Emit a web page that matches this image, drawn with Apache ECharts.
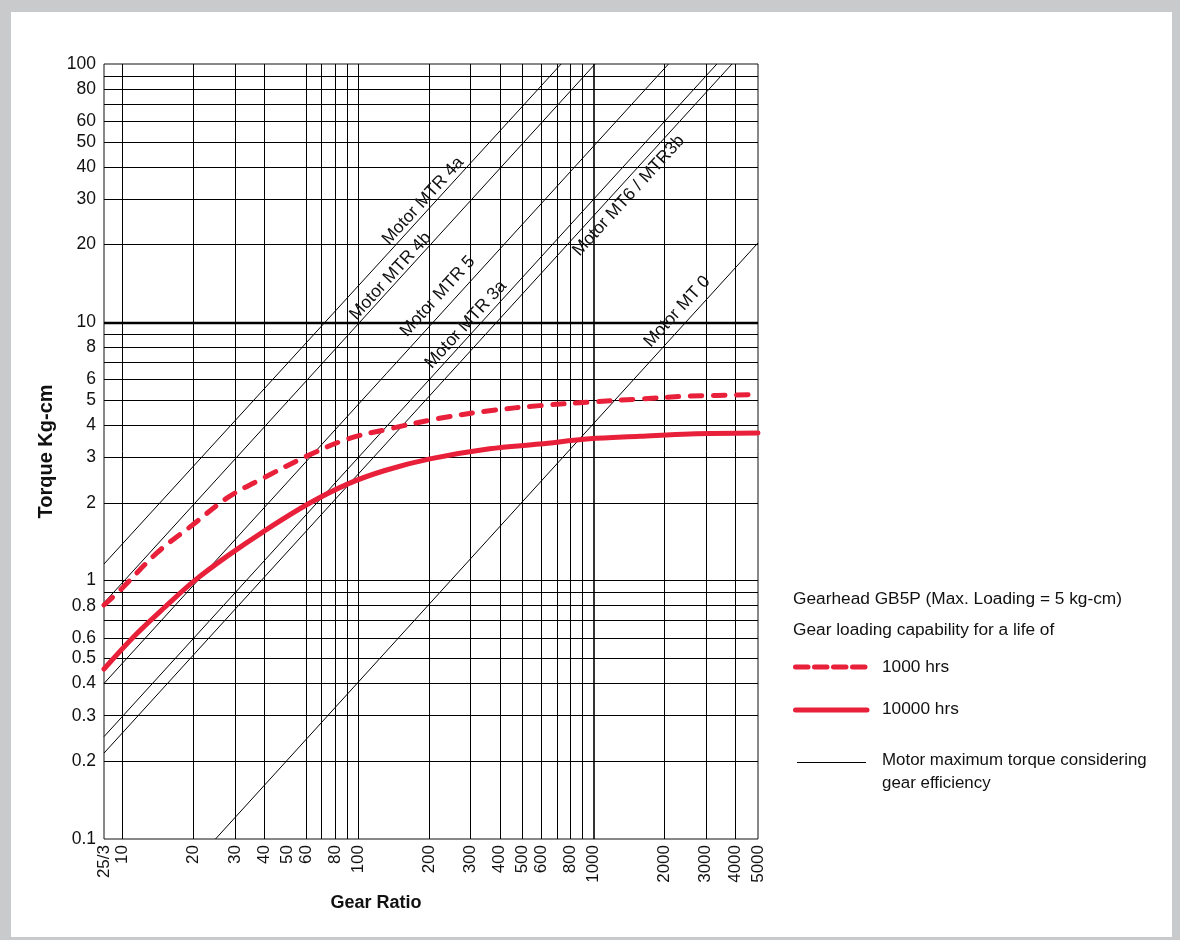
<!DOCTYPE html>
<html>
<head>
<meta charset="utf-8">
<script src="https://cdn.jsdelivr.net/npm/echarts@6/dist/echarts.min.js"></script>
<style>
  html, body { margin: 0; padding: 0; background: #c9cacc; }
  #panel { position: absolute; left: 11px; top: 12px; width: 1161px; height: 925px; background: #ffffff; }
  #chart { position: absolute; left: 0; top: 0; width: 1180px; height: 940px; }
</style>
</head>
<body>
<div id="panel"></div>
<div id="chart"></div>
<script>
// ---------- data ----------
const xTickValues = [25/3, 10, 20, 30, 40, 50, 60, 80, 100, 200, 300, 400, 500, 600, 800, 1000, 2000, 3000, 4000, 5000];
const xTickLabels = ['25/3', '10', '20', '30', '40', '50', '60', '80', '100', '200', '300', '400', '500', '600', '800', '1000', '2000', '3000', '4000', '5000'];
const yTickValues = [0.1, 0.2, 0.3, 0.4, 0.5, 0.6, 0.8, 1, 2, 3, 4, 5, 6, 8, 10, 20, 30, 40, 50, 60, 80, 100];
const yTickLabels = ['0.1', '0.2', '0.3', '0.4', '0.5', '0.6', '0.8', '1', '2', '3', '4', '5', '6', '8', '10', '20', '30', '40', '50', '60', '80', '100'];
const xGridValues = [10, 20, 30, 40, 60, 70, 80, 90, 100, 200, 300, 400, 500, 600, 700, 800, 900, 1000, 2000, 3000, 4000];
const yGridValues = [0.2, 0.3, 0.4, 0.5, 0.6, 0.7, 0.8, 0.9, 1, 2, 3, 4, 5, 6, 7, 8, 9, 10, 20, 30, 40, 50, 60, 70, 80, 90];

const ratio1000  = [8.333, 9.88, 14.1, 19.6, 28.0, 40.1, 61.3, 90.6, 136, 222, 362, 591, 964, 1572, 2564, 5000];
const torque1000 = [0.805, 0.929, 1.29, 1.63, 2.10, 2.51, 3.05, 3.54, 3.87, 4.25, 4.55, 4.76, 4.91, 5.05, 5.18, 5.25];
const ratio10000  = [8.333, 11.25, 15.1, 20.2, 28.0, 40.1, 61.3, 90.6, 130, 202, 362, 591, 964, 1572, 2564, 5000];
const torque10000 = [0.455, 0.612, 0.789, 1.00, 1.25, 1.56, 1.98, 2.37, 2.67, 2.96, 3.24, 3.38, 3.54, 3.62, 3.70, 3.73];

const motorNames        = ['Motor MTR 4a', 'Motor MTR 4b', 'Motor MTR 5', 'Motor MTR 3a', 'Motor MT6 / MTR3b', 'Motor MT 0'];
const motorStartRatio   = [8.333, 8.333, 8.333, 8.333, 8.333, 24.8];
const motorStartTorque  = [1.16, 0.82, 0.40, 0.249, 0.215, 0.1];
const motorEndRatio     = [729, 1016, 2083, 3344, 3876, 5000];
const motorEndTorque    = [100, 100, 100, 100, 100, 20.3];
const motorLabelRatio   = [189, 137.6, 218, 287, 1412, 2269];
const motorLabelTorque  = [29.5, 15.1, 12.6, 9.8, 30.9, 11.0];

// ---------- styling ----------
const FONT = '"Liberation Sans", Arial, sans-serif';
const RED = '#e8203a';
const INK = '#111111';
const LABEL_ANGLE = 47.66;

const chart = echarts.init(document.getElementById('chart'), null, { renderer: 'canvas' });

const series = [];

// grid lines
series.push({
  type: 'line', name: 'grid', data: [[25/3, 0.1]], symbol: 'none', silent: true,
  lineStyle: { width: 0 }, z: 1,
  markLine: {
    silent: true, symbol: ['none', 'none'], animation: false,
    label: { show: false }, emphasis: { disabled: true },
    lineStyle: { color: '#000', width: 1, type: 'solid', opacity: 1 },
    data: [
      ...xGridValues.map(v => ({ xAxis: v, lineStyle: v === 1000 ? { width: 1.6, color: '#000' } : undefined })),
      ...yGridValues.map(v => ({ yAxis: v, lineStyle: v === 10 ? { width: 2.4, color: '#000' } : undefined }))
    ]
  }
});

// motor lines
motorNames.forEach((n, i) => {
  series.push({
    type: 'line', name: n, symbol: 'none', silent: true, z: 3,
    lineStyle: { color: '#000', width: 1 },
    data: [[motorStartRatio[i], motorStartTorque[i]], [motorEndRatio[i], motorEndTorque[i]]]
  });
});

// gear loading curves
series.push({
  type: 'line', name: '1000 hrs', symbol: 'none', smooth: 0.35, silent: true, z: 5,
  lineStyle: { color: RED, width: 5, type: [11.5, 11.5], cap: 'round' },
  data: ratio1000.map((r, i) => [r, torque1000[i]])
});
series.push({
  type: 'line', name: '10000 hrs', symbol: 'none', smooth: 0.35, silent: true, z: 5,
  lineStyle: { color: RED, width: 5, cap: 'round' },
  data: ratio10000.map((r, i) => [r, torque10000[i]])
});

// motor labels
series.push({
  type: 'scatter', name: 'motorLabels', symbolSize: 0, silent: true, z: 6,
  itemStyle: { opacity: 1 },
  data: motorNames.map((n, i) => ({ value: [motorLabelRatio[i], motorLabelTorque[i]], name: n })),
  label: {
    show: true, position: 'inside', formatter: p => p.name, rotate: LABEL_ANGLE, opacity: 1,
    color: INK, fontFamily: FONT, fontSize: 17.5, align: 'center', verticalAlign: 'middle'
  }
});

// x tick labels
series.push({
  type: 'scatter', name: 'xTicks', symbolSize: 0, silent: true, z: 6,
  itemStyle: { opacity: 1 },
  data: xTickValues.map((v, i) => ({ value: [v, 0.1], name: xTickLabels[i] })),
  label: {
    show: true, position: 'bottom', distance: 6, formatter: p => p.name, rotate: 90, opacity: 1,
    align: 'right', verticalAlign: 'middle',
    color: INK, fontFamily: FONT, fontSize: 17
  }
});

// y tick labels
series.push({
  type: 'scatter', name: 'yTicks', symbolSize: 0, silent: true, z: 6,
  itemStyle: { opacity: 1 },
  data: yTickValues.map((v, i) => ({ value: [25/3, v], name: yTickLabels[i] })),
  label: {
    show: true, position: 'left', distance: 8, formatter: p => p.name, opacity: 1,
    align: 'right', verticalAlign: 'middle',
    color: INK, fontFamily: FONT, fontSize: 17.5
  }
});

const option = {
  animation: false,
  backgroundColor: 'transparent',
  textStyle: { fontFamily: FONT },
  grid: { left: 104, top: 64, width: 654, height: 775, show: true, borderColor: '#111', borderWidth: 1, backgroundColor: 'transparent', containLabel: false },
  xAxis: {
    type: 'log', logBase: 10, min: 25/3, max: 5000,
    name: 'Gear Ratio', nameLocation: 'middle', nameGap: 55,
    nameTextStyle: { fontFamily: FONT, fontSize: 18, fontWeight: 'bold', color: INK, padding: [0, 110, 0, 0] },
    axisLine: { show: false }, axisTick: { show: false }, axisLabel: { show: false },
    splitLine: { show: false }, minorSplitLine: { show: false }
  },
  yAxis: {
    type: 'log', logBase: 10, min: 0.1, max: 100,
    name: 'Torque Kg-cm', nameLocation: 'middle', nameGap: 48, nameRotate: 90,
    nameTextStyle: { fontFamily: FONT, fontSize: 20, fontWeight: 'bold', color: INK },
    axisLine: { show: false }, axisTick: { show: false }, axisLabel: { show: false },
    splitLine: { show: false }, minorSplitLine: { show: false }
  },
  series: series,
  graphic: [
    { type: 'text', x: 793, y: 599, silent: true, style: { text: 'Gearhead GB5P (Max. Loading = 5 kg-cm)', fill: INK, font: '17.3px ' + FONT, verticalAlign: 'middle' } },
    { type: 'text', x: 793, y: 630, silent: true, style: { text: 'Gear loading capability for a life of', fill: INK, font: '17.3px ' + FONT, verticalAlign: 'middle' } },
    { type: 'line', silent: true, shape: { x1: 795.5, y1: 667, x2: 867, y2: 667 }, style: { stroke: RED, lineWidth: 5, lineDash: [12.5, 6.5], lineCap: 'round' } },
    { type: 'text', x: 882, y: 667, silent: true, style: { text: '1000 hrs', fill: INK, font: '17.3px ' + FONT, verticalAlign: 'middle' } },
    { type: 'line', silent: true, shape: { x1: 795.5, y1: 710, x2: 867, y2: 710 }, style: { stroke: RED, lineWidth: 5, lineCap: 'round' } },
    { type: 'text', x: 882, y: 709, silent: true, style: { text: '10000 hrs', fill: INK, font: '17.3px ' + FONT, verticalAlign: 'middle' } },
    { type: 'line', silent: true, shape: { x1: 797, y1: 762.5, x2: 866, y2: 762.5 }, style: { stroke: '#000', lineWidth: 1 } },
    { type: 'text', x: 882, y: 760, silent: true, style: { text: 'Motor maximum torque considering', fill: INK, font: '16.9px ' + FONT, verticalAlign: 'middle' } },
    { type: 'text', x: 882, y: 783, silent: true, style: { text: 'gear efficiency', fill: INK, font: '16.9px ' + FONT, verticalAlign: 'middle' } }
  ]
};

chart.setOption(option);
</script>
</body>
</html>
